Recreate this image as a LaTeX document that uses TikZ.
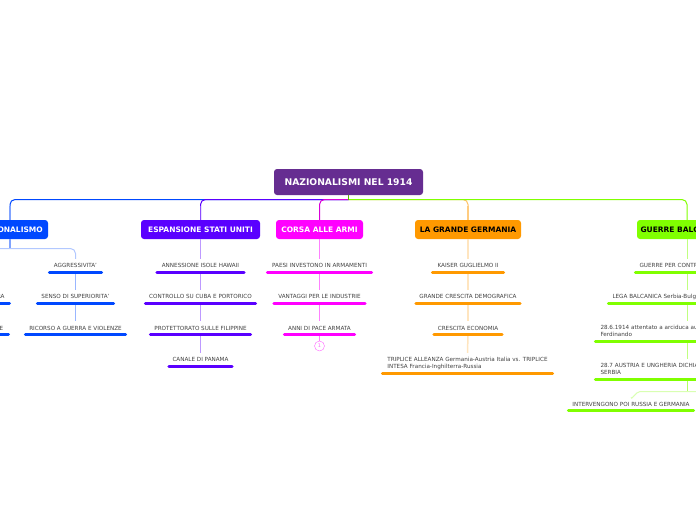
\documentclass[tikz,border=0pt]{standalone}
\usepackage{fontspec}
\setmainfont{DejaVu Sans}
\definecolor{rootcol}{HTML}{662D91}
\definecolor{bluecol}{HTML}{0048FF}
\definecolor{violetcol}{HTML}{5A00FF}
\definecolor{magcol}{HTML}{FF00FF}
\definecolor{orangecol}{HTML}{FF9900}
\definecolor{greencol}{HTML}{80FF00}
\tikzset{
    topic/.style={rounded corners=3pt, minimum height=19pt, inner sep=0pt, text=white, font=\bfseries\fontsize{7.5}{9}\selectfont},
    leaf/.style={minimum height=13pt, inner sep=0pt, text=black!75, font=\fontsize{5.65}{7}\selectfont, align=center},
    leftleaf/.style={leaf, align=left, inner xsep=5pt},
    bar/.style={line width=3pt, line cap=round},
    link/.style={line width=1pt, rounded corners=5pt},
    twig/.style={line width=1pt}
}
\begin{document}
\begin{tikzpicture}[x=1pt,y=-1pt]
    \useasboundingbox (0,0) rectangle (696,520);

    % Root
    \node[topic, fill=rootcol, minimum width=149pt, minimum height=26pt, font=\bfseries\fontsize{9.2}{11}\selectfont] (root) at (348.5,182) {NAZIONALISMI NEL 1914};
    \coordinate (hub) at (348.5,199.5);

    % Main topics
    \node[topic, fill=bluecol, minimum width=76pt] (naz) at (10,229.5) {NAZIONALISMO};
    \node[topic, fill=violetcol, minimum width=119pt] (usa) at (200.5,229.5) {ESPANSIONE STATI UNITI};
    \node[topic, fill=magcol, minimum width=87pt] (armi) at (319.5,229.5) {CORSA ALLE ARMI};
    \node[topic, fill=orangecol, text=black, minimum width=106pt] (ger) at (468,229.5) {LA GRANDE GERMANIA};
    \node[topic, fill=greencol, text=black, minimum width=100pt, text width=93pt, align=left] (bal) at (687,229.5) {GUERRE BALC};

    % Nazionalismo leaves
    \node[leaf, anchor=east, minimum width=10pt, align=right] (ra) at (6,296.5) {RA};
    \node[leaf, anchor=east, minimum width=10pt, align=right] (te) at (5,328) {TE};
    \coordinate (ralt) at (0,303);
    \coordinate (rart) at (9.5,303);
    \coordinate (telt) at (0,334.5);
    \coordinate (tert) at (8.5,334.5);
    \node[leaf, minimum width=52pt] (agg) at (75.5,265.5) {AGGRESSIVITA'};
    \node[leaf, minimum width=76pt] (sup) at (75.5,296.5) {SENSO DI SUPERIORITA'};
    \node[leaf, minimum width=100pt] (vio) at (75.5,328) {RICORSO A GUERRA E VIOLENZE};

    % Stati Uniti leaves
    \node[leaf, minimum width=87pt] (haw) at (200.5,265.5) {ANNESSIONE ISOLE HAWAII};
    \node[leaf, minimum width=110pt] (cub) at (200.5,296.5) {CONTROLLO SU CUBA E PORTORICO};
    \node[leaf, minimum width=100pt] (fil) at (200.5,328) {PROTETTORATO SULLE FILIPPINE};
    \node[leaf, minimum width=63pt] (pan) at (200.5,359.5) {CANALE DI PANAMA};

    % Corsa alle armi leaves
    \node[leaf, minimum width=104pt] (pae) at (319.5,265.5) {PAESI INVESTONO IN ARMAMENTI};
    \node[leaf, minimum width=91pt] (van) at (319.5,296.5) {VANTAGGI PER LE INDUSTRIE};
    \node[leaf, minimum width=70pt] (pac) at (319.5,328) {ANNI DI PACE ARMATA};
    \node[circle, draw=magcol!60, inner sep=0pt, minimum size=10pt, text=magcol!60, font=\fontsize{5}{6}\selectfont] (num) at (319.5,346) {1};

    % Germania leaves
    \node[leaf, minimum width=71pt] (kai) at (468,265.5) {KAISER GUGLIELMO II};
    \node[leaf, minimum width=104pt] (cre) at (468,296.5) {GRANDE CRESCITA DEMOGRAFICA};
    \node[leaf, minimum width=68pt] (eco) at (468,328) {CRESCITA ECONOMIA};
    \node[leaf, align=left, minimum height=20pt, minimum width=170pt] (tri) at (467.5,363) {TRIPLICE ALLEANZA Germania-Austria Italia vs. TRIPLICE\\INTESA Francia-Inghilterra-Russia};

    % Guerre balcaniche leaves
    \node[leftleaf, inner xsep=4pt, text width=95pt] (con) at (687,265.5) {GUERRE PER CONTR};
    \node[leftleaf, inner xsep=4pt, text width=149pt] (leg) at (687,296.5) {LEGA BALCANICA Serbia-Bulg};
    \node[leftleaf, minimum height=20pt, text width=173pt] (att) at (687,331) {28.6.1914 attentato a arciduca aus\\Ferdinando};
    \node[leftleaf, minimum height=20pt, text width=173pt] (dic) at (687,369) {28.7 AUSTRIA E UNGHERIA DICHIA\\SERBIA};
    \node[leaf, minimum width=125pt] (int) at (631,404) {INTERVENGONO POI RUSSIA E GERMANIA};
    \coordinate (fork) at (687,391.5);
    \coordinate (bend) at (640,391.5);
    \coordinate (edge) at (696,391.5);

    % Connectors from the root
    \draw[link, bluecol] (hub) -| (naz.north);
    \draw[link, violetcol] (hub) -| (usa.north);
    \draw[link, magcol!85!black] (hub) -| (armi.north);
    \draw[link, orangecol!60] (hub) -| (ger.north);
    \draw[link, greencol] (hub) -| (bal.north);
    \draw[twig, greencol!70!black] (root.south) -- (hub);
    \draw[line width=1.5pt, bluecol!50] (10,206) -- (naz.north);
    \draw[twig, violetcol!70] (200.5,206) -- (usa.north);
    \draw[line width=1.5pt, orangecol!50] (468,206) -- (ger.north);

    % Connectors between the leaves
    \draw[line width=1.5pt, bluecol!50] (naz.south) -- (10,248.5);
    \draw[link, bluecol!30] (0,248.5) -| (agg.north);
    \foreach \a/\b in {agg/sup,sup/vio}
        \draw[twig, bluecol!40] (\a.south) -- (\b.north);
    \foreach \a/\b in {usa/haw,haw/cub,cub/fil,fil/pan}
        \draw[twig, violetcol!40] (\a.south) -- (\b.north);
    \foreach \a/\b in {armi/pae,pae/van,van/pac}
        \draw[twig, magcol!50] (\a.south) -- (\b.north);
    \draw[twig, magcol!50] (pac.south) -- (num.north);
    \foreach \a/\b in {ger/kai,kai/cre,cre/eco,eco/tri}
        \draw[line width=1.5pt, orangecol!25] (\a.south) -- (\b.north);
    \foreach \a/\b in {bal/con,con/leg,leg/att,att/dic}
        \draw[twig, greencol!50] (\a.south) -- (\b.north);
    \draw[twig, greencol!60] (dic.south) -- (fork);
    \draw[twig, greencol!30] (edge) -- (bend) to[out=180,in=-90] (int.north);

    % Bars under the leaves
    \foreach \n in {agg,sup,vio}
        \draw[bar, bluecol] (\n.south west) -- (\n.south east);
    \draw[bar, bluecol] (ralt) -- (rart);
    \draw[bar, bluecol] (telt) -- (tert);
    \foreach \n in {haw,cub,fil,pan}
        \draw[bar, violetcol] (\n.south west) -- (\n.south east);
    \foreach \n in {pae,van,pac}
        \draw[bar, magcol] (\n.south west) -- (\n.south east);
    \foreach \n in {kai,cre,eco,tri}
        \draw[bar, orangecol] (\n.south west) -- (\n.south east);
    \foreach \n in {con,leg,att,dic,int}
        \draw[bar, greencol] (\n.south west) -- (\n.south east);
\end{tikzpicture}
\end{document}
